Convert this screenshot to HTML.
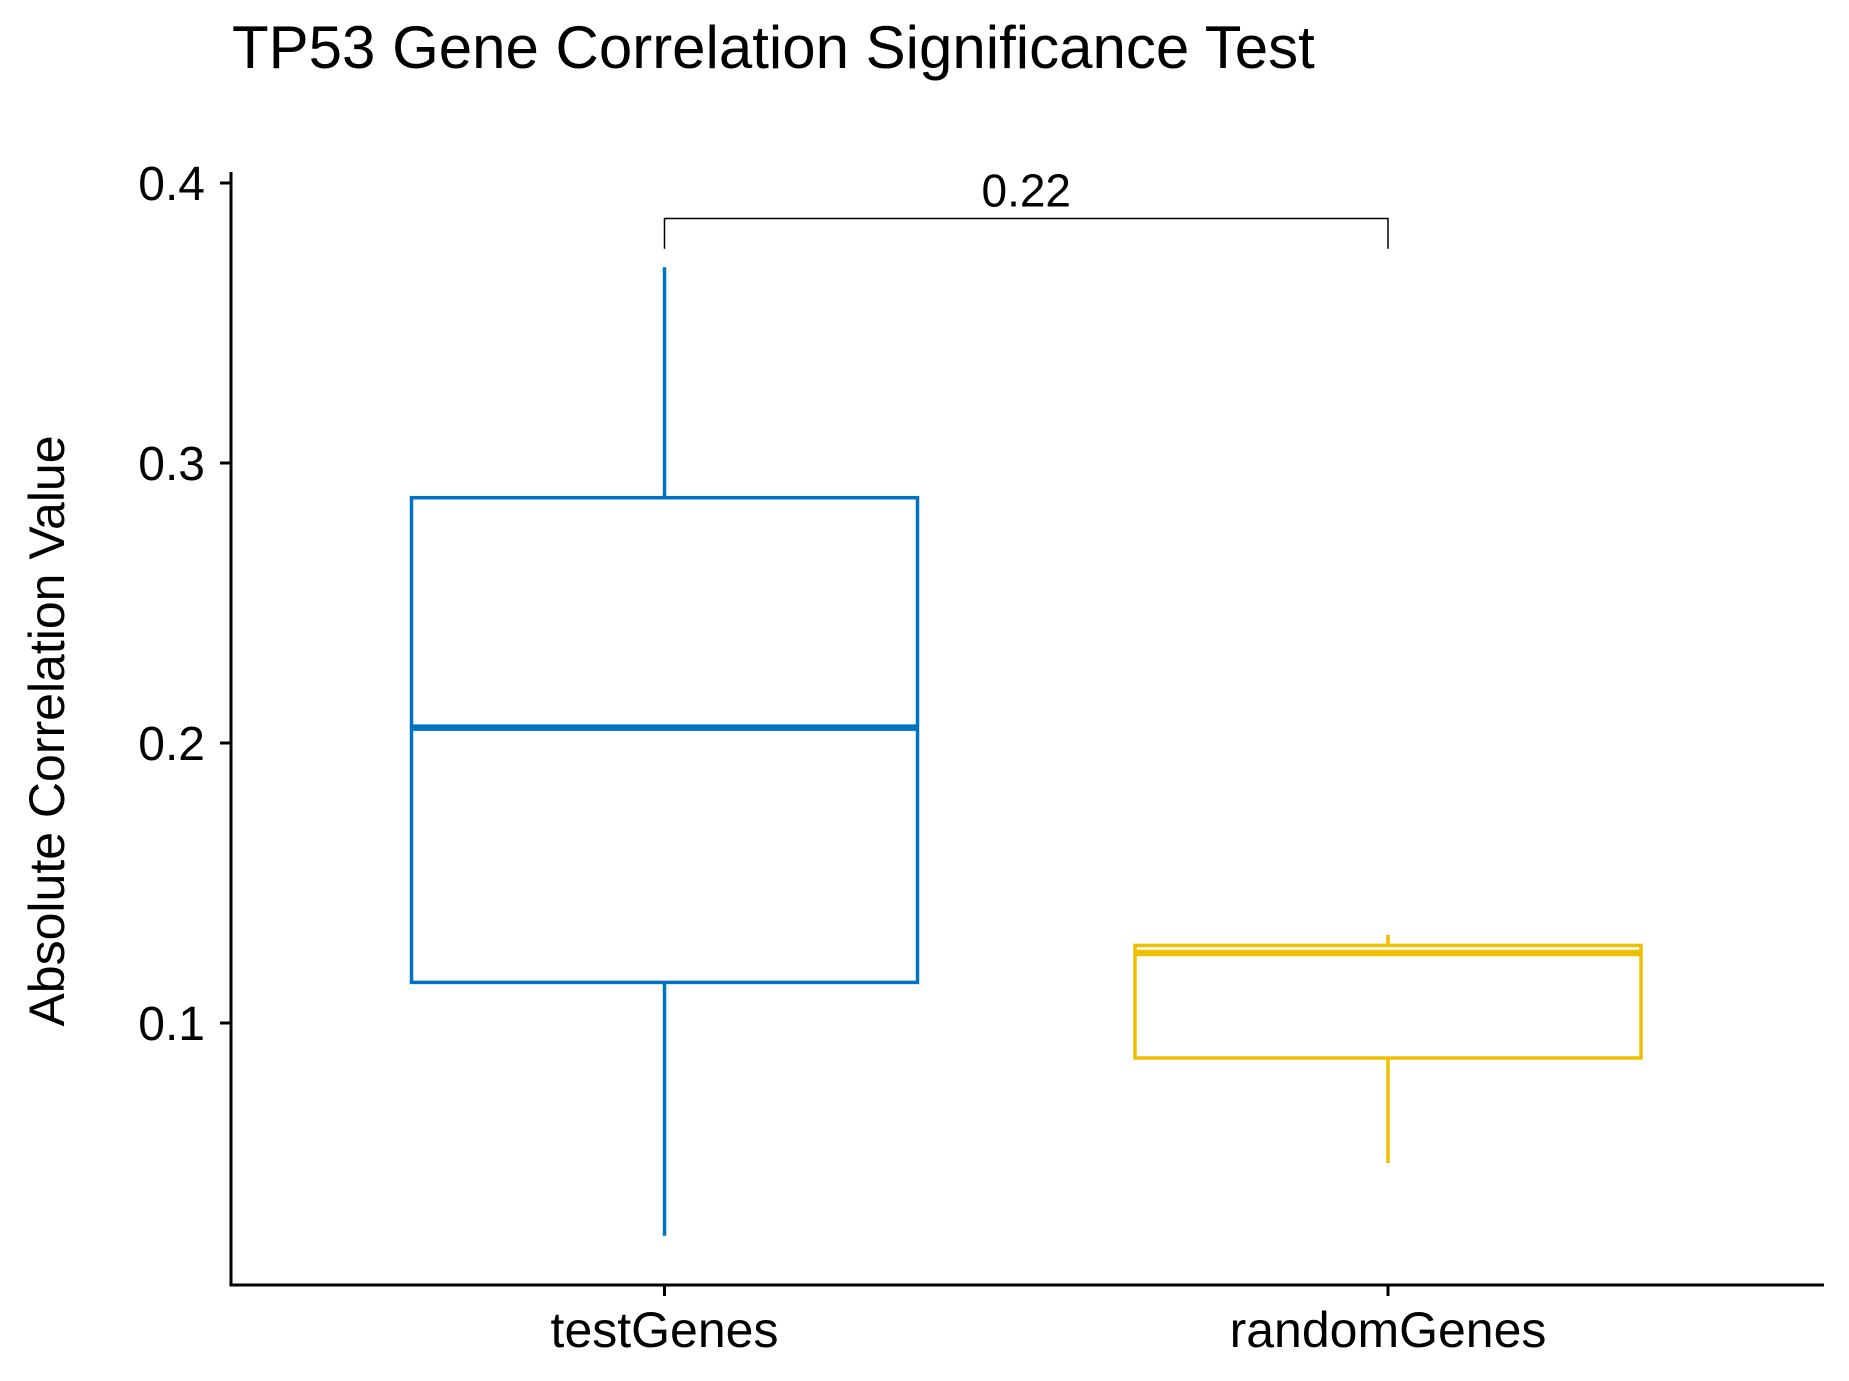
<!DOCTYPE html>
<html><head><meta charset="utf-8"><style>
html,body{margin:0;padding:0;background:#fff;}
svg{display:block;font-family:"Liberation Sans",Arial,sans-serif;}
</style></head><body>
<svg id="chart" width="1849" height="1381" viewBox="0 0 1849 1381">
<text x="232" y="68" font-size="60" fill="#000">TP53 Gene Correlation Significance Test</text>
<text transform="translate(64,731) rotate(-90)" text-anchor="middle" font-size="50" fill="#000">Absolute Correlation Value</text>
<g id="axes"></g>
<g id="boxes"></g>
<g id="annot"></g>
</svg>
<script>
const categories = ["testGenes","randomGenes"];
const whiskerLow = [0.024, 0.05];
const q1 = [0.1145, 0.0875];
const medians = [0.2055, 0.125];
const q3 = [0.2876, 0.1277];
const whiskerHigh = [0.3699, 0.1315];
const colors = ["#0073C2","#EFC000"];
const yTicks = [0.1,0.2,0.3,0.4];
const yTickLabels = ["0.1","0.2","0.3","0.4"];
const pValueLabel = "0.22";
const bracketY = 0.3873;
const bracketLegY = 0.3765;

const NS="http://www.w3.org/2000/svg";
const y = v => 463 - (v - 0.3) * 2800;
const x = i => 664.5 + i * 723.5;
const halfW = 253;
function mk(tag, attrs, parent){const e=document.createElementNS(NS,tag);for(const k in attrs)e.setAttribute(k,attrs[k]);parent.appendChild(e);return e;}
const axes=document.getElementById('axes'), boxes=document.getElementById('boxes'), annot=document.getElementById('annot');

let yl=mk('line',{x1:231,y1:172,x2:231,y2:1286,stroke:'#000','stroke-width':3},axes);


let xl=mk('line',{x1:229.5,y1:1285,x2:1824,y2:1285,stroke:'#000','stroke-width':3},axes);


yTicks.forEach((t,i)=>{
  let tk=mk('line',{x1:220,y1:y(t),x2:231,y2:y(t),stroke:'#000','stroke-width':3},axes);
  
  
  let tl=mk('text',{x:205,y:y(t)+17,'text-anchor':'end','font-size':48,fill:'#000'},axes);
  tl.textContent=yTickLabels[i];
  
  
});
categories.forEach((c,i)=>{
  let tk=mk('line',{x1:x(i),y1:1285,x2:x(i),y2:1296,stroke:'#000','stroke-width':3},axes);
  
  
  let tl=mk('text',{x:x(i),y:1347,'text-anchor':'middle','font-size':50,fill:'#000'},axes);
  tl.textContent=c;
  
  
  const col=colors[i];
  let g=mk('g',{},boxes);
  
  
  mk('line',{x1:x(i),y1:y(whiskerHigh[i]),x2:x(i),y2:y(q3[i]),stroke:col,'stroke-width':3.5},g);
  mk('line',{x1:x(i),y1:y(q1[i]),x2:x(i),y2:y(whiskerLow[i]),stroke:col,'stroke-width':3.5},g);
  mk('rect',{x:x(i)-halfW,y:y(q3[i]),width:halfW*2,height:y(q1[i])-y(q3[i]),fill:'#fff',stroke:col,'stroke-width':3.5},g);
  mk('line',{x1:x(i)-halfW,y1:y(medians[i]),x2:x(i)+halfW,y2:y(medians[i]),stroke:col,'stroke-width':6.5},g);
});
let br=mk('polyline',{points:`${x(0)},${y(bracketLegY)} ${x(0)},${y(bracketY)} ${x(1)},${y(bracketY)} ${x(1)},${y(bracketLegY)}`,fill:'none',stroke:'#000','stroke-width':1.5},annot);


let pl=mk('text',{x:(x(0)+x(1))/2,y:y(bracketY)-12,'text-anchor':'middle','font-size':46,fill:'#000'},annot);
pl.textContent=pValueLabel;


</script>
</body></html>
